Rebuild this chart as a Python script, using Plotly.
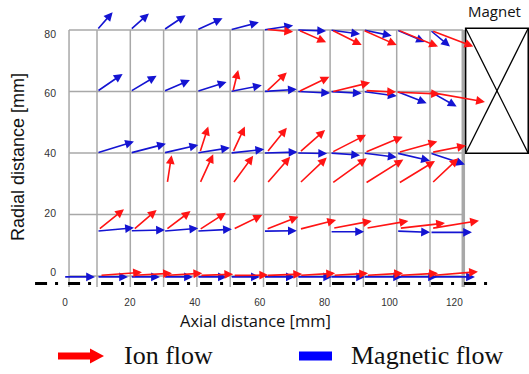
import plotly.graph_objects as go

# ---------------- data (mm) ----------------
# Magnetic flow arrows: tail (x0, y0) -> head (x1, y1)
mag_x0 = [10, 20, 30, 40, 50, 60, 70, 80, 90, 100, 110,
          10, 20, 30, 40, 50, 60, 70, 80, 90, 100, 110,
          10, 20, 30, 40, 50, 60, 70, 80, 90, 100, 110,
          10, 20, 30, 40, 60, 80, 100, 110,
          0, 10, 20, 30, 40, 50, 60, 70, 80, 90, 100, 110]
mag_y0 = [80] * 11 + [60] * 11 + [40] * 11 + \
         [14.6, 14.7, 14.6, 14.6, 14.6, 14.4, 14.6, 14.2] + [-0.3] * 12
mag_x1 = [14.7, 25.6, 36.6, 47.7, 58.6, 68.9, 78.8, 89.0, 98.5, 108.5, 116.0,
          17.7, 27.9, 37.9, 48.9, 59.5, 70.0, 80.0, 89.5, 100.0, 109.0, 118.0,
          21.1, 30.7, 40.4, 49.9, 60.2, 70.2, 79.1, 89.0, 100.0, 110.0, 120.5,
          21.1, 30.4, 40.4, 50.5, 70.0, 90.2, 110.0, 122.6,
          9.4, 19.3, 28.9, 38.8, 49.0, 58.9, 69.4, 80.6, 90.5, 101.6, 112.1, 123.5]
mag_y1 = [85.8, 85.4, 84.8, 83.8, 82.5, 81.5, 79.7, 78.7, 78.1, 76.1, 74.6,
          65.7, 65.1, 63.7, 63.1, 62.0, 60.7, 59.5, 59.4, 58.5, 56.2, 55.1,
          43.7, 43.0, 42.6, 41.7, 41.2, 40.3, 39.8, 39.3, 38.6, 37.5, 36.3,
          15.7, 15.0, 15.5, 15.2, 14.7, 14.4, 14.2, 14.2] + [-0.3] * 12

# Ion flow arrows: tail (x0, y0) -> head (x1, y1)
ion_x0 = [60.8, 70.5, 80.5, 89.9, 100.4, 110.5,
          50.8, 60.8, 70.5, 80.5, 90.5, 99.8, 109.7,
          40.9, 50.8, 61.0, 70.8, 80.5, 90.5, 100.5, 110.5,
          31.1, 40.9, 50.8, 61.0, 70.8, 80.5, 90.5, 100.5, 110.5,
          10.4, 20.9, 30.7, 40.7, 50.9, 60.8, 70.8, 80.8, 90.8, 100.8, 110.5,
          10.9, 20.9, 30.9, 40.9, 50.9, 60.9, 70.9, 80.9, 90.9, 100.9, 110.9]
ion_y0 = [80.2, 80, 80, 80, 80, 79.8,
          59.9, 59.9, 59.9, 59.9, 60.3, 59.8, 59.8] + [40.2] * 8 + [30.1] * 9 + \
         [15.0, 15.0, 15.0, 15.0, 15.2, 15.2, 15.2, 15.5, 15.5, 15.5, 15.5] + [0.2] * 11
ion_x1 = [68.9, 78.8, 89.5, 100.0, 112.4, 123.0,
          52.4, 67.0, 79.8, 92.0, 99.8, 113.0, 126.5,
          43.4, 54.4, 67.0, 78.5, 90.8, 101.8, 112.2, 120.8,
          32.4, 44.9, 56.9, 68.0, 79.0, 91.0, 102.0, 111.5, 118.5,
          18.1, 27.9, 38.1, 48.7, 59.6, 70.5, 81.8, 92.5, 103.5, 114.5, 124.7,
          23.5, 32.5, 41.6, 50.9, 61.4, 71.6, 81.5, 91.4, 101.9, 112.4, 124.4]
ion_y1 = [79.4, 76.0, 75.1, 75.1, 74.6, 74.6,
          67.0, 66.2, 64.8, 62.9, 59.8, 59.2, 56.6,
          48.6, 48.6, 48.2, 47.5, 45.9, 45.3, 43.7, 42.4,
          39.3, 39.6, 39.1, 38.8, 38.5, 38.3, 37.9, 37.4, 38.3,
          21.7, 21.5, 21.1, 20.6, 19.8, 19.3, 18.2, 17.9, 17.9, 17.2, 18.0,
          1.2, 0.9, 0.9, 0.6, 0.3, 0.65, 0.9, 0.9, 0.9, 0.9, 1.4]

grid_x = [1.6, 10, 20, 30, 40, 50, 60, 70, 80, 90, 100, 110, 120]
grid_y = [0, 20, 40, 60, 80]
x_tick_vals = [0, 20, 40, 60, 80, 100, 120]
x_tick_text = ["0", "20", "40", "60", "80", "100", "120"]
y_tick_vals = [0, 20, 40, 60, 80]
y_tick_text = ["0", "20", "40", "60", "80"]

magnet_x = [120.7, 139.5]
magnet_y = [39.9, 80.55]
axis_line_y = -2.44
axis_line_x = [-8.6, 130.1]

# ---------------- layout geometry ----------------
W, H = 529, 374
PB = 292  # bottom of plot area in px

def fx(px):
    return (px - 63.7) / 3.33

def fy(py):
    return (276 - py) / 3.075

def px2paper(px):
    return px / W

def py2paper(py):
    return (PB - py) / PB

BLUE = "#1414d2"
RED = "#ff1414"
GRID = "#a8a8a8"

fig = go.Figure()
fig.add_trace(go.Scatter(x=[], y=[], xaxis="x", yaxis="y", showlegend=False))
fig.add_trace(go.Scatter(x=[], y=[], xaxis="x2", yaxis="y", showlegend=False))
fig.add_trace(go.Scatter(x=[], y=[], xaxis="x", yaxis="y2", showlegend=False))

shapes = []
for gx in grid_x:
    shapes.append(dict(type="line", xref="x", yref="y", x0=gx, x1=gx, y0=-3.6, y1=80,
                       line=dict(color=GRID, width=3.5 if gx == 120 else 1.5), layer="above"))
for gy in grid_y:
    shapes.append(dict(type="line", xref="x", yref="y", x0=grid_x[0], x1=120, y0=gy, y1=gy,
                       line=dict(color=GRID, width=1.5), layer="above"))
# symmetry axis
shapes.append(dict(type="line", xref="x", yref="y", x0=axis_line_x[0], x1=axis_line_x[1],
                   y0=axis_line_y, y1=axis_line_y,
                   line=dict(color="black", width=3, dash="12px,8px,3px,10px")))
# magnet box
shapes.append(dict(type="rect", xref="x", yref="y", x0=magnet_x[0], x1=magnet_x[1],
                   y0=magnet_y[0], y1=magnet_y[1], line=dict(color="black", width=1.5)))
shapes.append(dict(type="line", xref="x", yref="y", x0=magnet_x[0], x1=magnet_x[1],
                   y0=magnet_y[0], y1=magnet_y[1], line=dict(color="black", width=1.3)))
shapes.append(dict(type="line", xref="x", yref="y", x0=magnet_x[0], x1=magnet_x[1],
                   y0=magnet_y[1], y1=magnet_y[0], line=dict(color="black", width=1.3)))

# legend glyphs
def P(px, py):
    return f"{px2paper(px):.5f},{py2paper(py):.5f}"

ly = 356
arrow_path = ("M" + P(58, ly - 3.5) + " L" + P(90, ly - 3.5) + " L" + P(90, ly - 7.5) +
              " L" + P(104, ly) + " L" + P(90, ly + 7.5) + " L" + P(90, ly + 3.5) +
              " L" + P(58, ly + 3.5) + " Z")
shapes.append(dict(type="path", xref="paper", yref="paper", path=arrow_path,
                   fillcolor="#ff0000", line=dict(width=0)))
shapes.append(dict(type="rect", xref="paper", yref="paper",
                   x0=px2paper(299), x1=px2paper(332), y0=py2paper(360.5), y1=py2paper(351.5),
                   fillcolor="#0000ff", line=dict(width=0)))

annotations = []

def add_arrows(x0s, y0s, x1s, y1s, color):
    for a, b, c, d in zip(x0s, y0s, x1s, y1s):
        annotations.append(dict(x=c, y=d, ax=a, ay=b, xref="x", yref="y", axref="x", ayref="y",
                                text="", showarrow=True, arrowhead=2, arrowsize=1.1,
                                arrowwidth=1.6, arrowcolor=color, standoff=0, startstandoff=0,
                                font=dict(size=1)))

add_arrows(mag_x0, mag_y0, mag_x1, mag_y1, BLUE)
add_arrows(ion_x0, ion_y0, ion_x1, ion_y1, RED)

annotations.append(dict(x=px2paper(494), y=py2paper(11), xref="paper", yref="paper",
                        text="Magnet", showarrow=False, xanchor="center", yanchor="middle",
                        font=dict(family="Open Sans", size=15, color="#111")))
annotations.append(dict(x=px2paper(255), y=py2paper(320), xref="paper", yref="paper",
                        text="Axial distance [mm]", showarrow=False, xanchor="center",
                        yanchor="middle", borderpad=0,
                        font=dict(family="Open Sans", size=16.5, color="#111")))
annotations.append(dict(x=px2paper(18), y=py2paper(157), xref="paper", yref="paper",
                        text="Radial distance [mm]", showarrow=False, textangle=-90,
                        xanchor="center", yanchor="middle",
                        font=dict(family="Liberation Sans", size=18, color="#111")))
annotations.append(dict(x=px2paper(122), y=py2paper(355), xref="paper", yref="paper",
                        text="Ion flow", showarrow=False, xanchor="left", yanchor="middle",
                        font=dict(family="Liberation Serif", size=26, color="#111")))
annotations.append(dict(x=px2paper(349), y=py2paper(355), xref="paper", yref="paper",
                        text="Magnetic flow", showarrow=False, xanchor="left", yanchor="middle",
                        font=dict(family="Liberation Serif", size=26, color="#111")))

tickfont = dict(family="Liberation Sans", size=10, color="#333")

fig.update_layout(
    template="none",
    width=W, height=H,
    margin=dict(l=0, r=0, t=0, b=H - PB, pad=0, autoexpand=False),
    paper_bgcolor="white", plot_bgcolor="rgba(0,0,0,0)",
    showlegend=False,
    xaxis=dict(range=[fx(0), fx(W)], showgrid=False, zeroline=False, showticklabels=False,
               showline=False, ticks="", automargin=False),
    yaxis=dict(range=[fy(PB), fy(0)], showgrid=False, zeroline=False, showticklabels=False,
               showline=False, ticks="", automargin=False),
    xaxis2=dict(range=[(0 - 65) / 3.245, (W - 65) / 3.245], overlaying="x", anchor="y",
                side="bottom", showgrid=False, zeroline=False, showline=False, ticks="",
                automargin=False, ticklabelstandoff=3,
                tickmode="array", tickvals=x_tick_vals, ticktext=x_tick_text, tickfont=tickfont),
    yaxis2=dict(range=[(272.7 - PB) / 2.984, 272.7 / 2.984], overlaying="y", anchor="x",
                side="left", showgrid=False, zeroline=False, automargin=False,
                showline=False, ticks="", tickmode="array", tickvals=y_tick_vals,
                ticklabelstandoff=-57,
                ticktext=y_tick_text, tickfont=dict(family="Liberation Sans", size=10.5,
                                                    color="#333")),
    shapes=shapes,
    annotations=annotations,
)

fig.write_html("out.html",
               config={"displayModeBar": False},
               post_script="document.body.style.margin='0';"
                           "document.documentElement.style.overflow='hidden';")
